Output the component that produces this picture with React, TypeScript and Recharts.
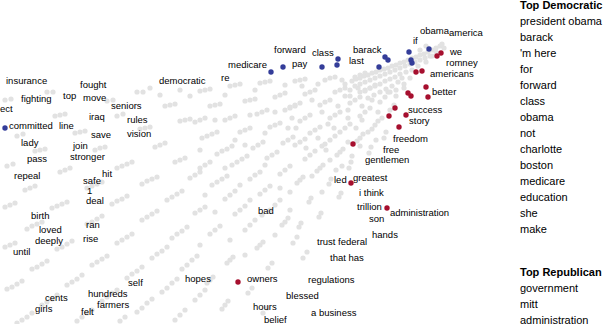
import { Scatter, ScatterChart, XAxis, YAxis } from "recharts";

const FONT = "'Liberation Sans', Arial, sans-serif";

// background words (light gray dots), fanning out from the top right
const GRAY_DENSE: [number, number][] = [
  [440, 46], [436, 48], [432, 50], [428, 52], [424, 54], [420, 55], [416, 57], [412, 58],
  [408, 60], [404, 62], [400, 63], [396, 65], [392, 66], [388, 68], [384, 69], [380, 70],
  [376, 72], [372, 73], [368, 75], [364, 76], [360, 78], [356, 79], [352, 81],
  [430, 56], [425, 58], [420, 60], [415, 62], [410, 64], [405, 66], [400, 68], [395, 70],
  [390, 72], [385, 74], [380, 76], [375, 78], [370, 80], [365, 82], [360, 84], [355, 86],
  [400, 74], [395, 77], [390, 79], [385, 81], [380, 84], [375, 86], [370, 88], [365, 90],
  [360, 92], [392, 86], [386, 89], [380, 92], [374, 95], [368, 98], [345, 84], [350, 90],
  [345, 96], [398, 82], [402, 78], [436, 52], [432, 56], [426, 62], [418, 66], [412, 70],
  [406, 72], [410, 78], [396, 90], [404, 84], [420, 50], [426, 46], [442, 44], [444, 48],
];

const GRAY_RIGHT: [number, number][] = [
  [295, 81], [300, 80], [305, 79], [325, 80], [330, 78], [335, 77], [355, 77], [360, 75],
  [365, 73], [305, 94], [310, 92], [315, 90], [335, 92], [340, 90], [345, 88], [365, 91],
  [370, 88], [375, 85], [290, 107], [295, 105], [300, 103], [320, 105], [325, 102], [330, 100],
  [350, 103], [355, 100], [360, 97], [380, 102], [385, 97], [390, 92], [300, 121], [305, 118],
  [310, 115], [330, 118], [335, 115], [340, 112], [360, 116], [365, 112], [370, 108], [390, 110],
  [394, 105], [310, 133], [315, 130], [320, 127], [340, 132], [345, 128], [350, 124], [372, 129],
  [375, 125], [378, 121], [295, 145], [300, 142], [305, 139], [325, 144], [330, 140], [335, 136],
  [357, 141], [360, 138], [363, 134], [384, 138], [386, 132], [305, 159], [310, 155], [315, 151],
  [337, 155], [340, 152], [343, 149], [369, 153], [371, 147], [317, 171], [320, 168], [323, 165],
  [349, 168], [351, 162], [297, 183], [300, 180], [303, 177], [329, 184], [331, 179], [339, 197],
  [341, 193], [309, 202], [311, 198], [319, 217], [321, 213], [299, 227], [301, 223],
  [302, 86], [318, 84], [342, 80], [350, 96], [312, 100], [338, 106], [362, 106], [378, 112],
  [322, 112], [348, 118], [296, 128], [328, 124], [356, 128], [368, 132], [306, 148], [322, 146],
  [348, 142], [352, 156], [330, 160], [312, 176], [336, 170], [290, 192], [322, 192], [376, 140],
  [382, 118], [396, 96], [404, 88], [388, 92], [372, 100], [358, 88], [348, 110], [362, 120],
  [334, 128], [318, 138], [292, 118], [288, 128], [342, 166], [326, 150], [360, 146],
];

const GRAY_MID: [number, number][] = [
  [200, 91], [205, 90], [210, 89], [230, 86], [235, 85], [240, 84], [260, 83], [265, 82],
  [270, 81], [210, 106], [215, 105], [220, 104], [245, 101], [250, 100], [255, 99], [275, 97],
  [280, 95], [285, 93], [195, 122], [200, 120], [205, 118], [225, 120], [230, 118], [235, 116],
  [257, 114], [262, 112], [267, 110], [285, 110], [290, 108], [295, 106], [202, 138], [207, 136],
  [212, 134], [217, 132], [240, 132], [245, 130], [250, 128], [270, 127], [275, 125], [280, 123],
  [217, 154], [222, 151], [227, 149], [232, 146], [253, 148], [258, 145], [263, 142], [283, 143],
  [288, 140], [293, 137], [200, 168], [205, 165], [210, 162], [232, 165], [237, 162], [242, 159],
  [247, 156], [267, 158], [272, 155], [277, 152], [212, 185], [217, 182], [222, 179], [227, 176],
  [250, 179], [255, 175], [260, 172], [280, 174], [285, 170], [290, 166], [225, 199], [230, 195],
  [235, 191], [260, 194], [265, 190], [270, 186], [235, 214], [240, 210], [245, 206], [270, 210],
  [275, 205], [280, 200], [245, 230], [250, 225], [255, 220], [282, 225], [285, 222], [288, 218],
  [210, 234], [215, 230], [220, 226], [257, 248], [260, 245], [263, 242], [227, 263], [230, 260],
  [233, 257], [268, 268], [272, 263], [207, 283], [210, 280], [213, 277], [248, 293], [252, 288],
  [222, 309], [225, 305], [228, 301], [263, 313], [267, 308], [293, 243], [297, 237], [303, 258],
  [307, 252], [190, 96], [180, 90], [160, 95], [150, 88], [225, 95], [255, 90], [285, 85],
  [215, 120], [250, 115], [275, 112], [235, 140], [265, 133], [200, 150], [245, 145], [225, 168],
  [265, 165], [240, 185], [205, 195], [280, 188], [250, 200], [215, 212], [262, 215], [230, 240],
  [275, 235], [245, 255], [200, 245], [290, 210],
];

const GRAY_LEFT: [number, number][] = [
  [5, 100], [11, 99], [47, 92], [53, 92], [107, 101], [113, 100], [137, 92], [143, 92],
  [55, 116], [60, 115], [65, 114], [117, 116], [123, 114], [165, 106], [170, 105], [175, 104],
  [17, 136], [23, 134], [75, 133], [80, 132], [85, 131], [140, 129], [145, 128], [150, 127],
  [180, 121], [185, 120], [190, 119], [35, 151], [40, 150], [45, 149], [95, 150], [100, 148],
  [105, 147], [155, 147], [160, 145], [165, 143], [7, 166], [13, 164], [60, 172], [65, 170],
  [70, 168], [117, 168], [122, 166], [127, 164], [132, 162], [175, 162], [180, 160], [185, 158],
  [25, 190], [30, 188], [35, 186], [87, 188], [92, 186], [97, 184], [102, 182], [142, 184],
  [147, 181], [152, 179], [157, 177], [190, 178], [195, 175], [200, 172], [5, 207], [10, 205],
  [15, 203], [52, 208], [57, 206], [62, 204], [67, 202], [112, 204], [117, 201], [122, 199],
  [127, 196], [167, 200], [172, 197], [177, 194], [182, 191], [27, 229], [32, 226], [37, 224],
  [42, 222], [87, 224], [92, 222], [97, 219], [102, 216], [142, 220], [147, 217], [152, 214],
  [157, 211], [195, 213], [200, 210], [205, 207], [5, 247], [10, 245], [15, 243], [57, 249],
  [62, 247], [67, 244], [72, 241], [117, 243], [122, 240], [127, 237], [132, 234], [172, 238],
  [177, 234], [182, 231], [187, 227], [32, 269], [37, 267], [42, 264], [47, 261], [92, 265],
  [97, 262], [102, 259], [107, 256], [152, 258], [157, 254], [162, 251], [167, 247], [7, 289],
  [12, 287], [17, 284], [22, 281], [67, 285], [72, 282], [77, 279], [82, 275], [127, 278],
  [132, 274], [137, 271], [142, 267], [182, 269], [187, 265], [192, 260], [197, 256], [42, 305],
  [47, 302], [52, 299], [57, 295], [102, 301], [107, 297], [112, 293], [117, 290], [162, 292],
  [167, 288], [172, 283], [177, 279], [17, 323], [22, 320], [27, 317], [32, 313], [77, 321],
  [82, 317], [87, 313], [92, 310], [137, 312], [142, 308], [147, 303], [152, 299], [195, 300],
  [200, 295], [205, 290], [120, 321], [125, 317], [175, 320], [180, 315], [185, 310],
];

// words used more by one party
const DEM_POINTS: [number, number][] = [
  [5, 128], [271, 72], [283, 67], [322, 67], [338, 59], [337, 65], [379, 67], [385, 57],
  [388, 60], [409, 52], [429, 49], [411, 60], [412, 63],
];
const REP_POINTS: [number, number][] = [
  [238, 282], [351, 183], [387, 208], [353, 144], [389, 116], [395, 108], [399, 127], [406, 115],
  [408, 93], [411, 96], [428, 97], [426, 87], [422, 71], [416, 72], [437, 56], [441, 53],
];

const WORDS: [string, number, number][] = [
  ["insurance", 6, 84], ["fought", 80, 88], ["democratic", 159, 84], ["fighting", 21, 102],
  ["top", 63, 99], ["move", 83, 101], ["ect", 0, 112], ["seniors", 111, 109], ["iraq", 89, 120],
  ["rules", 127, 123], ["committed", 9, 129], ["line", 59, 129], ["vision", 127, 137],
  ["save", 91, 138], ["lady", 21, 146], ["join", 73, 149], ["stronger", 70, 160], ["pass", 27, 162],
  ["repeal", 14, 179], ["safe", 83, 184], ["hit", 102, 177], ["1", 87, 194], ["deal", 86, 204],
  ["birth", 31, 219], ["loved", 39, 233], ["ran", 86, 228], ["deeply", 35, 244], ["rise", 83, 242],
  ["until", 13, 255], ["self", 128, 286], ["hundreds", 88, 297], ["cents", 45, 301],
  ["farmers", 97, 308], ["girls", 35, 312], ["felt", 81, 315], ["hopes", 185, 282],
  ["owners", 247, 282], ["regulations", 308, 283], ["blessed", 286, 299], ["hours", 253, 310],
  ["a business", 311, 316], ["belief", 264, 323], ["bad", 258, 214], ["trust federal", 317, 245],
  ["that has", 330, 261], ["hands", 372, 238], ["son", 369, 222], ["trillion", 357, 210],
  ["administration", 390, 216], ["i think", 359, 196], ["led", 334, 183], ["greatest", 353, 181],
  ["gentlemen", 365, 163], ["free", 383, 153], ["freedom", 393, 142], ["story", 409, 124],
  ["success", 408, 113], ["better", 432, 95], ["americans", 430, 77], ["romney", 446, 66],
  ["we", 450, 55], ["obama", 420, 34], ["america", 449, 36], ["if", 413, 44], ["barack", 353, 53],
  ["last", 349, 64], ["class", 312, 56], ["forward", 274, 53], ["pay", 292, 67],
  ["medicare", 228, 68], ["re", 221, 81],
];

const DEM_TOP = [
  "president obama", "barack", "'m here", "for", "forward", "class", "obama", "not",
  "charlotte", "boston", "medicare", "education", "she", "make",
];
const REP_TOP = ["government", "mitt", "administration"];

const toPts = (arr: [number, number][]) => arr.map(([x, y]) => ({ x, y }));
const gray = [...GRAY_LEFT, ...GRAY_MID, ...GRAY_RIGHT, ...GRAY_DENSE];

const dot = (fill: string, r: number) => (p: any) => (
  <circle cx={p.cx} cy={p.cy} r={r} fill={fill} />
);

const wordShape = (p: any) => (
  <text x={p.cx} y={p.cy} fontSize={9.5} fontFamily={FONT} fill="#000">
    {p.payload.word}
  </text>
);

export default function App() {
  const words = WORDS.map(([word, x, y]) => ({ word, x, y }));
  return (
    <div style={{ position: "absolute", left: 0, top: 0, width: 604, height: 324 }}>
      <ScatterChart width={604} height={324} margin={{ top: 0, right: 0, bottom: 0, left: 0 }}>
        <XAxis type="number" dataKey="x" domain={[0, 604]} hide />
        <YAxis type="number" dataKey="y" domain={[0, 324]} reversed hide />
        <Scatter data={toPts(gray)} shape={dot("#e2e2e2", 2.6)} isAnimationActive={false} />
        <Scatter data={toPts(DEM_POINTS)} shape={dot("#343d99", 2.7)} isAnimationActive={false} />
        <Scatter data={toPts(REP_POINTS)} shape={dot("#a60f2e", 2.7)} isAnimationActive={false} />
        <Scatter data={words} shape={wordShape} isAnimationActive={false} />
      </ScatterChart>
      <svg
        width={604}
        height={324}
        style={{ position: "absolute", left: 0, top: 0, pointerEvents: "none" }}
      >
        <text x={520} y={9} fontSize={11} fontWeight="bold" fontFamily={FONT}>
          Top Democratic
        </text>
        {DEM_TOP.map((w, i) => (
          <text key={w} x={520} y={25 + i * 16} fontSize={11} fontFamily={FONT}>
            {w}
          </text>
        ))}
        <text x={520} y={276} fontSize={11} fontWeight="bold" fontFamily={FONT}>
          Top Republican
        </text>
        {REP_TOP.map((w, i) => (
          <text key={w} x={520} y={292 + i * 16} fontSize={11} fontFamily={FONT}>
            {w}
          </text>
        ))}
      </svg>
    </div>
  );
}
